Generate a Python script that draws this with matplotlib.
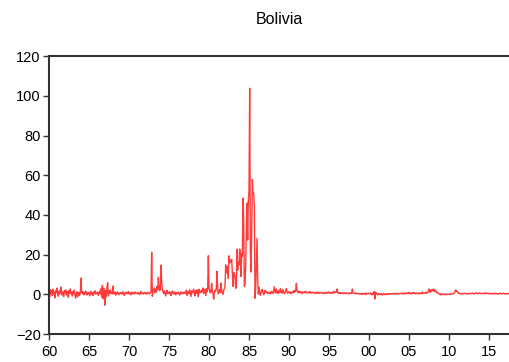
import numpy as np
import matplotlib
matplotlib.use('Agg')
import matplotlib.pyplot as plt

# monthly inflation (log change x100), one row per year, 1960M01 .. 2017M07
y1960s = [
    [1.5, -1.2, 2.3, 0.4, 1.8, -0.6, 2.6, 0.2, 1.1, -1.8, 2.0, 0.8],
    [3.1, 0.5, -0.9, 1.6, 0.2, 2.4, 3.7, -0.4, 1.2, 0.6, -1.1, 1.9],
    [0.8, 2.2, -0.3, 1.4, 0.1, -1.5, 1.9, 0.6, 2.7, 0.3, 1.0, -0.8],
    [1.4, 0.5, 2.1, -0.6, -1.9, 0.2, 1.3, -1.2, 0.4, 0.9, -0.5, 1.1],
    [8.2, 1.0, 0.4, 1.3, -0.3, 0.9, 0.2, 1.6, 0.5, -0.4, 1.1, 0.3],
    [0.6, -0.8, 0.9, 1.4, 0.1, 0.7, -0.6, 1.2, 0.4, 1.8, 0.2, 0.9],
    [0.3, 1.1, -0.5, 0.8, 1.5, 0.2, 2.8, -1.4, 4.5, -2.3, 3.1, 0.6],
    [-5.5, 2.0, -1.2, 4.0, 5.8, -0.8, 1.7, 0.3, 2.2, 0.5, 0.9, 0.1],
    [4.2, 0.6, 0.2, 1.1, -0.4, 0.8, 0.3, 1.2, 0.5, -0.2, 0.7, 0.4],
    [0.9, 0.1, 0.6, 1.3, 0.2, -0.5, 0.8, 0.4, 1.0, 0.3, 0.6, 1.4],
]
y1970s = [
    [0.2, 0.8, 0.5, -0.3, 1.1, 0.4, 0.9, 0.1, 0.6, 1.2, 0.3, 0.5],
    [0.7, 0.2, 1.0, 0.4, -0.2, 0.6, 1.5, 0.3, 0.8, 0.1, 0.5, 0.9],
    [0.4, 0.8, 0.1, 0.6, 1.1, 0.3, 0.5, 0.2, 0.9, 1.3, 21.2, -1.0],
    [2.0, 1.5, 3.2, 0.8, 2.5, 1.1, 4.0, 2.2, 8.6, 3.5, 1.8, 2.6],
    [14.8, 6.0, 2.5, 1.2, 0.4, 1.8, 0.6, -0.8, 1.1, 2.0, 0.3, 0.9],
    [0.5, 1.4, 0.2, -0.6, 0.9, 1.6, 0.4, 0.1, 1.2, 0.7, -0.3, 0.8],
    [0.6, 0.3, 1.1, 0.8, -0.4, 0.5, 1.3, 0.2, 0.9, 0.4, 1.0, 0.6],
    [1.2, 0.4, 2.1, -0.5, 0.9, 1.5, 0.3, 2.4, 0.6, -1.1, 1.8, 0.7],
    [1.4, 2.6, 0.2, -0.8, 1.9, 0.5, 2.3, 1.1, -1.2, 2.5, 0.8, 1.6],
    [0.9, 2.0, 1.3, 3.2, 0.4, 1.8, 2.5, -0.6, 2.8, 1.2, 3.0, 19.4],
]
y1980s = [
    [3.0, 1.5, 0.8, 2.0, 5.5, 1.0, 0.5, -2.4, 1.0, 2.0, 1.5, 3.0],
    [11.6, 3.0, 0.2, 1.5, 2.5, 0.8, 5.7, 1.8, 0.5, 0.0, 2.0, 3.0],
    [4.0, 14.8, 12.2, 10.7, 13.9, 8.0, 19.4, 15.8, 17.3, 16.0, 17.6, 11.0],
    [4.0, 11.0, 9.7, 8.9, 3.0, 4.2, 22.8, 12.2, 16.0, 14.8, 22.8, 19.8],
    [9.0, 20.5, 19.0, 48.5, 38.0, 4.0, 5.0, 14.0, 31.5, 46.0, 27.3, 47.5],
    [52.0, 103.8, 22.0, 11.2, 30.0, 57.9, 50.8, 51.0, 44.5, -2.0, 3.1, 15.5],
    [28.2, 7.5, 0.1, 3.5, 1.0, -0.5, 0.6, 2.0, 2.5, 0.8, -0.2, 0.5],
    [2.0, 1.5, 0.8, 1.2, 0.4, 0.9, 0.6, 1.0, 0.3, 1.4, 0.8, 1.1],
    [0.5, 2.2, 3.8, 1.0, 0.6, 2.6, 1.3, 0.4, 1.9, 0.8, 1.2, 2.8],
    [0.9, 1.5, 0.6, 2.4, 1.1, 0.3, 0.8, 1.6, 2.9, 1.2, 0.5, 1.0],
]
y1990s = [
    [1.4, 0.6, 1.1, 0.4, 0.9, 1.3, 0.7, 1.8, 1.0, 2.0, 1.5, 5.5],
    [2.0, 1.2, 0.8, 1.6, 0.9, 1.4, 0.6, 1.1, 0.5, 1.3, 0.8, 1.0],
    [1.5, 1.0, 0.7, 1.2, 0.8, 0.6, 1.1, 0.9, 1.4, 0.5, 0.8, 1.1],
    [0.9, 0.6, 1.0, 0.7, 0.4, 0.9, 0.6, 1.2, 0.5, 0.8, 0.6, 0.9],
    [0.7, 0.5, 0.9, 0.6, 0.3, 0.8, 0.5, 1.0, 0.7, 0.4, 0.6, 1.3],
    [0.8, 0.5, 0.9, 0.6, 1.0, 0.7, 0.5, 1.6, 0.8, 1.1, 0.9, 1.2],
    [2.7, 0.8, 0.5, 0.9, 0.6, 0.4, 0.8, 0.5, 0.7, 0.3, 0.6, 0.8],
    [0.5, 0.3, 0.7, 0.4, 0.6, 0.2, 0.5, 0.8, 0.3, 0.6, 0.4, 2.7],
    [0.8, 0.6, 0.4, 0.7, 0.3, 0.5, 0.2, 0.6, 0.4, 0.3, 0.1, 0.5],
    [0.2, 0.4, -0.1, 0.3, 0.1, 0.5, 0.3, -0.2, 0.6, 0.4, 0.2, 0.3],
]
y2000s = [
    [0.5, 0.3, 0.8, 0.1, 0.4, -0.3, 0.6, 0.2, 1.5, -2.4, 1.0, 0.4],
    [0.2, -0.3, 0.4, 0.1, -0.2, 0.3, 0.0, 0.2, -0.4, 0.1, 0.3, -0.1],
    [0.1, -0.2, 0.2, 0.0, 0.3, -0.1, 0.2, 0.4, 0.1, 0.3, 0.2, 0.5],
    [0.3, 0.1, 0.5, 0.2, 0.4, 0.1, 0.6, 0.3, 0.2, 0.5, 0.3, 0.4],
    [0.6, 0.2, 0.4, 0.7, 0.1, 0.5, 0.3, 0.6, 0.2, 0.8, 0.4, 0.3],
    [1.0, 0.4, 0.6, 0.2, 0.8, 0.3, 0.5, 0.9, 0.4, 0.6, 0.2, 0.7],
    [0.5, 0.3, 0.6, 0.2, 0.7, 0.4, 0.5, 0.3, 1.2, 0.4, 0.6, 0.8],
    [0.9, 0.5, 1.1, 0.6, 0.8, 1.4, 2.7, 1.5, 1.0, 2.2, 1.6, 2.4],
    [1.8, 2.7, 1.3, 1.9, 2.1, 1.2, 0.8, 1.0, 0.4, 0.2, 0.1, -0.2],
    [0.3, -0.3, 0.0, 0.1, -0.2, 0.2, -0.1, 0.1, -0.3, 0.2, 0.0, 0.1],
]
y2010s = [
    [0.2, -0.1, 0.1, 0.3, 0.0, 0.2, 0.4, 0.3, 0.6, 1.4, 2.2, 1.5],
    [1.6, 1.1, 0.5, 0.7, 0.4, 0.3, 0.2, 0.5, 0.3, 0.1, 0.4, 0.6],
    [0.4, 0.2, 0.5, 0.3, 0.1, 0.4, 0.3, 0.6, 0.5, 0.2, 0.4, 0.7],
    [0.5, 0.2, 0.4, 0.3, 0.6, 0.8, 0.5, 0.3, 0.4, 0.7, 0.5, 0.6],
    [0.4, 0.3, 0.6, 0.4, 0.2, 0.5, 0.8, 0.3, 0.4, 0.7, 0.5, 0.3],
    [0.6, 0.2, 0.4, 0.3, 0.5, 0.2, 0.3, 0.1, 0.4, 0.6, 0.2, 0.5],
    [0.3, 0.1, 0.4, 0.2, 0.6, 0.3, 0.5, 0.2, 0.4, 0.3, 0.6, 0.2],
    [0.4, 0.2, 0.3, 0.1, 0.4, 0.3, 0.5],
]

year_ticks = list(range(1960, 2020, 5))
tick_labels = ['60', '65', '70', '75', '80', '85', '90', '95',
               '00', '05', '10', '15']

values = np.concatenate([np.concatenate(d) for d in
                         (y1960s, y1970s, y1980s, y1990s, y2000s, y2010s)])
dates = 1960 + np.arange(len(values)) / 12.0

plt.rcParams['font.family'] = ['Liberation Sans', 'DejaVu Sans']

fig = plt.figure(figsize=(5.09, 3.62), dpi=100)
ax = fig.add_axes([0.0963, 0.0773, 0.9037, 0.7677])
ax.plot(dates, values, color='#ff3b3b', linewidth=1.0)

ax.set_xlim(1960, dates[-1])
ax.set_ylim(-20, 120)
ax.set_yticks(range(-20, 121, 20))
ax.set_xticks(year_ticks)
ax.set_xticklabels(tick_labels)
ax.tick_params(direction='out', length=4, width=1, color='#333333',
               labelsize=10.5)
ax.tick_params(axis='x', pad=4)
ax.tick_params(axis='y', pad=2)
for side in ('left', 'bottom', 'top'):
    ax.spines[side].set_linewidth(1.5)
    ax.spines[side].set_color('#333333')
ax.spines['right'].set_visible(False)

fig.text(0.548, 0.945, 'Bolivia', ha='center', va='center', fontsize=11.5)

fig.savefig('out.png', dpi=100)
